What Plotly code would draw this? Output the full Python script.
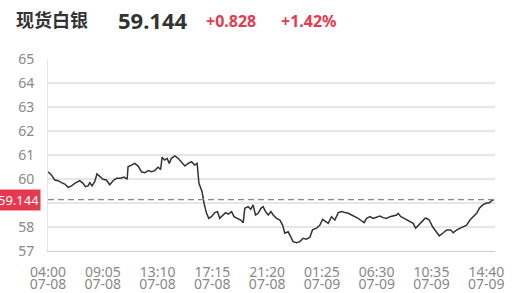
import plotly.graph_objects as go

# minute index (trading minutes from 07-08 04:00) and price
idx = [0, 15, 30, 45, 60, 75, 90, 105, 119, 142, 157, 167, 179, 187, 197, 209, 219, 231, 246, 261,
       276, 291, 306, 325, 340, 354, 358, 373, 388, 403, 418, 433, 448, 463, 477, 492, 504, 510, 522,
       533, 542, 552, 567, 582, 597, 612, 627, 642, 656, 667, 675, 683, 689, 698, 709, 719, 731, 746,
       758, 768, 783, 794, 806, 821, 832, 848, 862, 873, 880, 895, 907, 917, 928, 940, 952, 962, 973,
       985, 997, 1007, 1022, 1037, 1049, 1059, 1074, 1085, 1096, 1112, 1126, 1141, 1156, 1171, 1183,
       1201, 1216, 1228, 1243, 1253, 1268, 1283, 1298, 1313, 1328, 1343, 1358, 1373, 1387, 1402, 1414,
       1425, 1440, 1454, 1470, 1484, 1499, 1514, 1529, 1544, 1559, 1566, 1578, 1593, 1608, 1619, 1633,
       1644, 1656, 1671, 1686, 1693, 1705, 1720, 1735, 1750, 1765, 1783, 1801, 1812, 1828, 1842, 1857,
       1872, 1887, 1902, 1917, 1929, 1944, 1959, 1974, 1984, 1995]
price = [60.30, 60.17, 59.96, 59.93, 59.85, 59.79, 59.65, 59.71, 59.82, 59.93, 59.82, 59.68, 59.71,
         59.85, 59.71, 59.89, 60.21, 60.10, 59.99, 59.96, 59.76, 59.93, 60.03, 60.03, 60.08, 59.99,
         60.51, 60.58, 60.65, 60.54, 60.30, 60.26, 60.35, 60.30, 60.35, 60.49, 60.40, 60.90, 60.79,
         60.86, 60.65, 60.86, 60.96, 60.86, 60.72, 60.54, 60.65, 60.72, 60.58, 60.65, 59.82, 59.65,
         59.47, 58.98, 58.57, 58.36, 58.43, 58.60, 58.64, 58.36, 58.50, 58.60, 58.54, 58.64, 58.43,
         58.36, 58.29, 58.18, 58.78, 58.85, 58.74, 58.92, 58.50, 58.57, 58.78, 58.85, 58.64, 58.50,
         58.64, 58.50, 58.36, 58.29, 58.08, 57.74, 57.80, 57.60, 57.39, 57.35, 57.39, 57.53, 57.49,
         57.57, 57.88, 57.95, 58.08, 58.32, 58.22, 58.15, 58.43, 58.29, 58.60, 58.64, 58.60, 58.57,
         58.50, 58.43, 58.36, 58.26, 58.18, 58.36, 58.43, 58.36, 58.43, 58.46, 58.39, 58.36, 58.43,
         58.46, 58.50, 58.57, 58.43, 58.36, 58.29, 58.22, 58.15, 57.95, 58.08, 58.22, 58.36, 58.36,
         58.29, 58.01, 57.80, 57.63, 57.74, 57.88, 57.88, 57.76, 57.88, 57.95, 57.99, 58.08, 58.29,
         58.43, 58.57, 58.78, 58.92, 58.99, 59.01, 59.10, 59.144]

tick_idx = [0, 245, 490, 735, 980, 1225, 1470, 1715, 1960]
tick_times = ["04:00", "09:05", "13:10", "17:15", "21:20", "01:25", "06:30", "10:35", "14:40"]
tick_dates = ["07-08", "07-08", "07-08", "07-08", "07-08", "07-09", "07-09", "07-09", "07-09"]
y_ticks = [57, 58, 59, 60, 61, 62, 63, 64, 65]
y_tick_text = ["57", "58", "", "60", "61", "62", "63", "64", "65"]

name = "现货白银"
last_price = 59.144
change = "+0.828"
change_pct = "+1.42%"

W, H = 512, 293
ML, MR, MT, MB = 48, 17, 59, 42
PW, PH = W - ML - MR, H - MT - MB
X_RANGE = [0, 1999]


def px(x):
    return (x - ML) / PW


def py(y):
    return (H - MB - y) / PH


fig = go.Figure()
fig.add_trace(go.Scatter(x=idx, y=price, mode="lines",
                         line=dict(color="#333333", width=1.5), hoverinfo="skip"))
fig.add_hline(y=last_price, line=dict(color="#888888", width=1.2, dash="6px,4px"))

font = "Noto Sans, Noto Sans CJK SC, sans-serif"
anns = [
    dict(text="<b>" + name + "</b>", x=px(14), y=py(20), size=18, color="#333333"),
    dict(text="<b>" + f"{last_price:.3f}" + "</b>", x=px(116), y=py(20), size=22, color="#333333"),
    dict(text="<b>" + change + "</b>", x=px(204), y=py(21), size=16, color="#e63950"),
    dict(text="<b>" + change_pct + "</b>", x=px(279), y=py(21), size=16, color="#e63950"),
]
for a in anns:
    fig.add_annotation(text=a["text"], x=a["x"], y=a["y"], xref="paper", yref="paper",
                       xanchor="left", yanchor="middle", showarrow=False,
                       font=dict(family=font, size=a["size"], color=a["color"]))

fig.add_annotation(text=f"{last_price:.3f}", x=px(41), y=last_price, xref="paper", yref="y",
                   xanchor="right", yanchor="middle", showarrow=False,
                   bgcolor="#e63950", borderpad=1,
                   font=dict(family=font, size=13, color="white"))

tick_font = dict(family=font, size=14, color="#888888")
fig.update_layout(
    width=W, height=H, margin=dict(l=ML, r=MR, t=MT, b=MB, autoexpand=False),
    paper_bgcolor="white", plot_bgcolor="white", showlegend=False,
    font=dict(family=font, size=13, color="#888888"),
    xaxis=dict(range=X_RANGE, tickvals=tick_idx, ticktext=tick_times, showgrid=False,
               zeroline=False, showline=True, linecolor="#cccccc", linewidth=1, automargin=False,
               ticks="", ticklabelstandoff=8, tickfont=tick_font),
    xaxis2=dict(range=X_RANGE, tickvals=tick_idx, ticktext=tick_dates, showgrid=False,
                zeroline=False, showline=False, automargin=False, overlaying="x", side="bottom",
                anchor="y", ticks="", ticklabelstandoff=23, tickfont=tick_font),
    yaxis=dict(range=[57, 65], tickvals=y_ticks, ticktext=y_tick_text, showgrid=True,
               gridcolor="#e6e6e6", gridwidth=1.5, zeroline=False, showline=True, automargin=False,
               linecolor="#e6e6e6", linewidth=1, ticks="", ticklabelstandoff=10,
               tickfont=tick_font),
)
# invisible trace to activate the date axis
fig.add_trace(go.Scatter(x=[X_RANGE[0]], y=[None], xaxis="x2", yaxis="y",
                         mode="lines", hoverinfo="skip", showlegend=False))

fig.write_html("out.html")
